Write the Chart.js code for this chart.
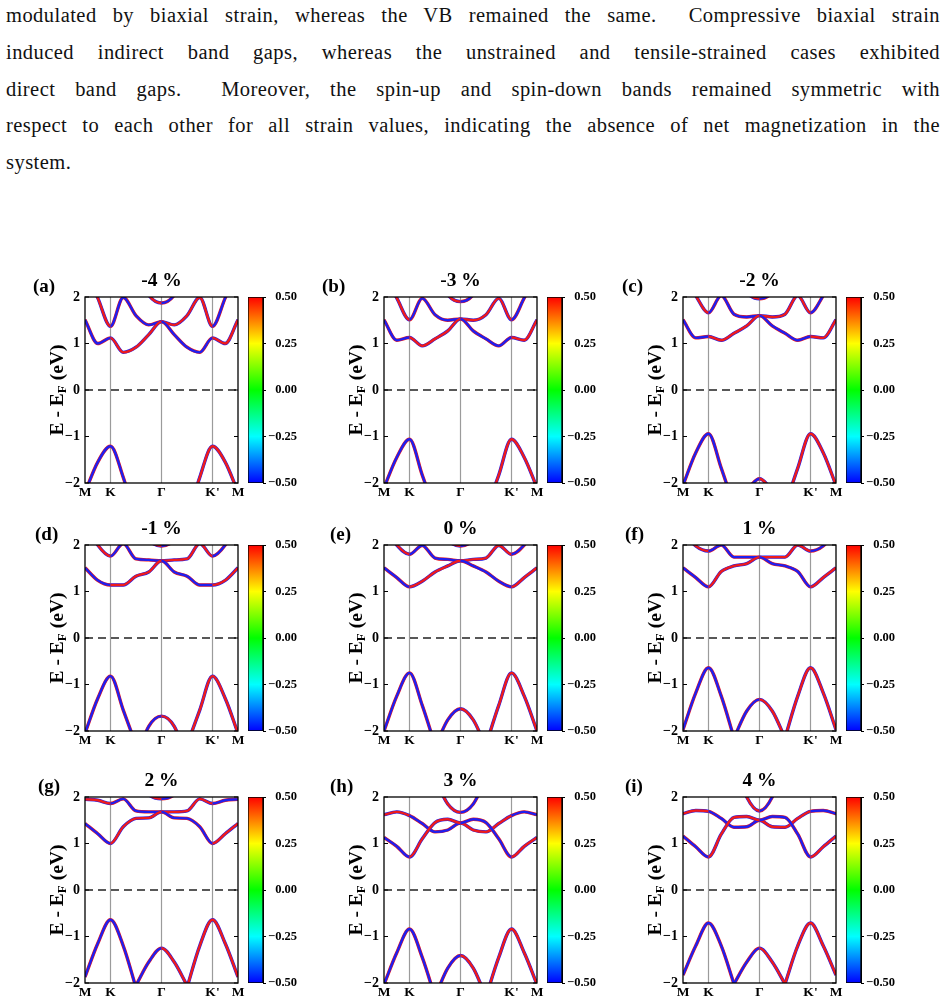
<!DOCTYPE html>
<html>
<head>
<meta charset="utf-8">
<script src="https://cdn.jsdelivr.net/npm/chart.js@4.4.0/dist/chart.umd.min.js"></script>
<style>
  body { margin: 0; width: 947px; height: 1008px; background: #fff; position: relative; overflow: hidden; }
  .para { position: absolute; left: 6px; top: -3px; width: 934px; font-family: "Liberation Serif", serif; font-size: 20.5px; letter-spacing: 0.45px; line-height: 36.8px; color: #111; }
  .para div { text-align: justify; text-align-last: justify; white-space: nowrap; }
  .para div.last { text-align-last: left; }
  canvas { position: absolute; }
</style>
</head>
<body>
<div class="para" id="para">
  <div>modulated by biaxial strain, whereas the VB remained the same.&nbsp; Compressive biaxial strain</div>
  <div>induced indirect band gaps, whereas the unstrained and tensile-strained cases exhibited</div>
  <div>direct band gaps.&nbsp; Moreover, the spin-up and spin-down bands remained symmetric with</div>
  <div id="longest">respect to each other for all strain values, indicating the absence of net magnetization in the</div>
  <div class="last">system.</div>
</div>
<script>
// k-path M - K - Γ - K' - M
const kPath = [0, 0.5, 1, 1.5, 2, 2.5, 3, 3.5, 4, 4.5, 5, 5.5, 6];
const kTickPos = [0, 1, 3, 5, 6];
const kTickText = ['M', 'K', 'Γ', "K'", 'M'];
const eTicks = [-2, -1, 0, 1, 2];
const cbTicks = [-0.5, -0.25, 0, 0.25, 0.5];
const strainText = ['-4 %', '-3 %', '-2 %', '-1 %', '0 %', '1 %', '2 %', '3 %', '4 %'];
const panelTag = ['(a)', '(b)', '(c)', '(d)', '(e)', '(f)', '(g)', '(h)', '(i)'];

// band energies (eV) along kPath, one row per band
const bandsM4 = [
  [1.51, 1.0, 1.12, 0.81, 0.92, 1.19, 1.47, 1.19, 0.92, 0.81, 1.12, 1.0, 1.51],
  [2.6, 1.98, 1.37, 1.99, 1.6, 1.4, 1.47, 1.4, 1.6, 1.99, 1.37, 1.98, 2.6],
  [null, null, null, null, 2.6, 2.04, 1.87, 2.04, 2.6, null, null, null, null],
  [-2.2, -1.55, -1.21, -1.88, -2.8, null, null, null, -2.8, -1.88, -1.21, -1.55, -2.2]
];
const bandsM3 = [
  [1.51, 1.07, 1.13, 0.95, 1.1, 1.27, 1.53, 1.27, 1.1, 0.95, 1.13, 1.07, 1.51],
  [2.5, 1.98, 1.51, 1.97, 1.62, 1.5, 1.53, 1.5, 1.62, 1.97, 1.51, 1.98, 2.5],
  [null, null, null, null, 2.6, 2.05, 1.9, 2.05, 2.6, null, null, null, null],
  [-2.1, -1.45, -1.06, -1.83, -2.6, null, null, null, -2.6, -1.83, -1.06, -1.45, -2.1]
];
const bandsM2 = [
  [1.51, 1.12, 1.15, 1.07, 1.22, 1.38, 1.6, 1.38, 1.22, 1.07, 1.15, 1.12, 1.51],
  [2.5, 2.03, 1.66, 2.03, 1.63, 1.57, 1.6, 1.57, 1.63, 2.03, 1.66, 2.03, 2.5],
  [null, null, null, null, 2.6, 2.1, 1.96, 2.1, 2.6, null, null, null, null],
  [-2.05, -1.35, -0.94, -1.68, -2.5, null, null, null, -2.5, -1.68, -0.94, -1.35, -2.05],
  [null, null, null, null, null, -2.15, -1.91, -2.15, null, null, null, null, null]
];
const bandsM1 = [
  [1.51, 1.24, 1.14, 1.14, 1.33, 1.42, 1.66, 1.42, 1.33, 1.14, 1.14, 1.24, 1.51],
  [2.5, 2.0, 1.76, 2.03, 1.7, 1.68, 1.66, 1.68, 1.7, 2.03, 1.76, 2.0, 2.5],
  [null, null, null, null, 2.5, 2.1, 1.98, 2.1, 2.5, null, null, null, null],
  [-2.05, -1.3, -0.82, -1.55, -2.3, null, null, null, -2.3, -1.55, -0.82, -1.3, -2.05],
  [null, null, null, null, -2.6, -1.9, -1.68, -1.9, -2.6, null, null, null, null]
];
const bands0 = [
  [1.51, 1.3, 1.1, 1.22, 1.42, 1.55, 1.66, 1.55, 1.42, 1.22, 1.1, 1.3, 1.51],
  [2.4, 2.0, 1.8, 1.99, 1.72, 1.69, 1.66, 1.69, 1.72, 1.99, 1.8, 2.0, 2.4],
  [null, null, null, null, 2.5, 2.1, 1.98, 2.1, 2.5, null, null, null, null],
  [-2.0, -1.25, -0.75, -1.45, -2.3, null, null, null, -2.3, -1.45, -0.75, -1.25, -2.0],
  [null, null, null, null, -2.35, -1.76, -1.52, -1.76, -2.35, null, null, null, null]
];
const bandsP1 = [
  [1.51, 1.3, 1.1, 1.43, 1.55, 1.6, 1.74, 1.6, 1.55, 1.43, 1.1, 1.3, 1.51],
  [2.3, 1.98, 1.87, 2.0, 1.74, 1.74, 1.74, 1.74, 1.74, 2.0, 1.87, 1.98, 2.3],
  [-1.97, -1.18, -0.64, -1.25, -2.15, null, null, null, -2.15, -1.25, -0.64, -1.18, -1.97],
  [null, null, null, null, -2.15, -1.57, -1.32, -1.57, -2.15, null, null, null, null]
];
const bandsP2 = [
  [1.43, 1.21, 1.0, 1.36, 1.54, 1.55, 1.68, 1.55, 1.54, 1.36, 1.0, 1.21, 1.43],
  [1.95, 1.93, 1.86, 1.96, 1.7, 1.68, 1.68, 1.68, 1.7, 1.96, 1.86, 1.93, 1.95],
  [null, null, null, null, 2.4, 2.05, 1.96, 2.05, 2.4, null, null, null, null],
  [-1.87, -1.15, -0.64, -1.2, -2.1, null, null, null, -2.1, -1.2, -0.64, -1.15, -1.87],
  [null, null, null, null, -2.05, -1.55, -1.25, -1.55, -2.05, null, null, null, null]
];
const bandsP3 = [
  [1.13, 0.94, 0.71, 1.1, 1.45, 1.52, 1.44, 1.52, 1.45, 1.1, 0.71, 0.94, 1.13],
  [1.62, 1.68, 1.6, 1.43, 1.25, 1.29, 1.44, 1.29, 1.25, 1.43, 1.6, 1.68, 1.62],
  [null, null, null, null, 2.4, 1.85, 1.67, 1.85, 2.4, null, null, null, null],
  [-2.03, -1.35, -0.84, -1.45, -2.3, null, null, null, -2.3, -1.45, -0.84, -1.35, -2.03],
  [null, null, null, null, -2.3, -1.68, -1.41, -1.68, -2.3, null, null, null, null]
];
const bandsP4 = [
  [1.16, 0.93, 0.71, 1.2, 1.56, 1.58, 1.5, 1.58, 1.56, 1.2, 0.71, 0.93, 1.16],
  [1.64, 1.71, 1.69, 1.54, 1.35, 1.36, 1.5, 1.36, 1.35, 1.54, 1.69, 1.71, 1.64],
  [null, null, null, null, 2.8, 2.0, 1.7, 2.0, 2.8, null, null, null, null],
  [-1.83, -1.2, -0.71, -1.2, -2.02, null, null, null, -2.02, -1.2, -0.71, -1.2, -1.83],
  [null, null, null, null, -2.02, -1.55, -1.25, -1.55, -2.02, null, null, null, null]
];
const allBands = [bandsM4, bandsM3, bandsM2, bandsM1, bands0, bandsP1, bandsP2, bandsP3, bandsP4];

// layout (px)
const plotLeft = [85, 384, 683];
const plotTop = [297, 545, 797];
const plotW = 153, plotH = 186;
const tagDx = [-52, -62, -61, -50, -54, -58, -47, -54, -58];
const FONT = '"Liberation Serif", "Times New Roman", serif';
const RED = '#ee1b1b', BLUE = '#1f1fee';

// shrink the paragraph font if the longest line would overflow
(function fitPara() {
  const para = document.getElementById('para');
  const probe = document.createElement('span');
  probe.style.cssText = 'position:absolute;visibility:hidden;white-space:nowrap;letter-spacing:0.45px;font-size:20.5px;font-family:"Liberation Serif",serif';
  probe.textContent = document.getElementById('longest').textContent;
  document.body.appendChild(probe);
  const w = probe.getBoundingClientRect().width;
  probe.remove();
  if (w > 930) para.style.fontSize = (20.5 * 930 / w) + 'px';
})();

function minusText(v) {
  return v < 0 ? '\u2212' + Math.abs(v) : String(v);
}

function line(ctx, x1, y1, x2, y2) {
  ctx.beginPath(); ctx.moveTo(x1, y1); ctx.lineTo(x2, y2); ctx.stroke();
}

// which spin channel sits on top along each stretch of the path
function spinOnTop(isVB, b, j) {
  const k = kPath[j];
  const seg = k < 1 ? 0 : k < 3 ? 1 : k < 5 ? 2 : 3;
  if (isVB) return seg < 2 ? BLUE : RED;
  return (seg + b) % 2 ? RED : BLUE;
}

const decor = {
  id: 'decor',
  beforeDatasetsDraw(chart) {
    const { ctx, chartArea: a, scales: { x, y } } = chart;
    ctx.save();
    ctx.strokeStyle = '#9b9b9b';
    ctx.lineWidth = 1.2;
    kTickPos.slice(1, -1).forEach(v => {
      const px = x.getPixelForValue(v);
      line(ctx, px, a.top, px, a.bottom);
    });
    ctx.strokeStyle = '#222';
    ctx.lineWidth = 1.4;
    ctx.setLineDash([8, 5]);
    const y0 = y.getPixelForValue(0);
    line(ctx, a.left, y0, a.right, y0);
    ctx.restore();
  },
  afterDatasetsDraw(chart) {
    const { ctx, chartArea: a, scales: { y } } = chart;
    ctx.save();
    ctx.strokeStyle = '#000';
    ctx.lineWidth = 1.3;
    ctx.strokeRect(a.left, a.top, a.right - a.left, a.bottom - a.top);
    ctx.lineWidth = 1;
    eTicks.forEach(v => {
      const py = y.getPixelForValue(v);
      line(ctx, a.left, py, a.left + 4, py);
      line(ctx, a.right - 4, py, a.right, py);
    });
    ctx.restore();
  },
  afterDraw(chart, args, opts) {
    const { ctx, chartArea: a } = chart;
    ctx.save();
    ctx.fillStyle = '#000';
    ctx.textBaseline = 'middle';
    // title
    ctx.font = 'bold 19.5px ' + FONT;
    ctx.textAlign = 'center';
    ctx.fillText(opts.title, (a.left + a.right) / 2, a.top - 16);
    // panel tag
    ctx.font = 'bold 19px ' + FONT;
    ctx.textAlign = 'left';
    ctx.fillText(opts.tag, a.left + opts.tagDx, a.top - 10);
    // y label E - E_F (eV)
    ctx.translate(a.left - 27, (a.top + a.bottom) / 2);
    ctx.rotate(-Math.PI / 2);
    const big = 'bold 19.5px ' + FONT, small = 'bold 13px ' + FONT;
    ctx.font = big; const w1 = ctx.measureText('E - E').width;
    ctx.font = small; const w2 = ctx.measureText('F').width;
    ctx.font = big; const w3 = ctx.measureText(' (eV)').width;
    const sx = -(w1 + w2 + w3) / 2;
    ctx.textAlign = 'left';
    ctx.fillText('E - E', sx, 0);
    ctx.font = small; ctx.fillText('F', sx + w1, 5);
    ctx.font = big; ctx.fillText(' (eV)', sx + w1 + w2, 0);
    ctx.restore();
  }
};

function jet(chart) {
  const a = chart.chartArea;
  if (!a) return BLUE;
  const g = chart.ctx.createLinearGradient(0, a.bottom, 0, a.top);
  g.addColorStop(0, '#0000ff');
  g.addColorStop(0.25, '#00ffff');
  g.addColorStop(0.5, '#00ff00');
  g.addColorStop(0.75, '#ffff00');
  g.addColorStop(1, '#ff0000');
  return g;
}

function addCanvas(left, top, w, h) {
  const c = document.createElement('canvas');
  c.width = w; c.height = h;
  c.style.left = left + 'px'; c.style.top = top + 'px';
  document.body.appendChild(c);
  return c.getContext('2d');
}

function drawPanel(i) {
  const col = i % 3, row = Math.floor(i / 3);
  const L = plotLeft[col], T = plotTop[row];
  const ctx = addCanvas(L - 85, T - 35, 85 + plotW + 10, 35 + plotH + 22);
  const datasets = [];
  allBands[i].forEach((band, b) => {
    const isVB = band.every(v => v === null || v < 0);
    const pts = kPath.map((k, j) => ({ x: k, y: band[j] }));
    // other spin channel underneath (wider, order 1 = drawn first), visible spin on top
    [[3.4, false, 1], [2.4, true, 0]].forEach(([w, top, ord]) => {
      datasets.push({
        data: pts,
        order: ord,
        borderColor: BLUE,
        borderWidth: w,
        pointRadius: 0,
        cubicInterpolationMode: 'monotone',
        spanGaps: false,
        clip: 0,
        segment: {
          borderColor: c => {
            const up = spinOnTop(isVB, b, c.p0DataIndex);
            return top ? up : (up === BLUE ? RED : BLUE);
          }
        }
      });
    });
  });
  new Chart(ctx, {
    type: 'line',
    data: { datasets },
    plugins: [decor],
    options: {
      responsive: false,
      animation: false,
      layout: { padding: { top: 35, right: 10, bottom: 0, left: 0 } },
      plugins: {
        legend: { display: false },
        tooltip: { enabled: false },
        decor: { title: strainText[i], tag: panelTag[i], tagDx: tagDx[i] }
      },
      scales: {
        x: {
          type: 'linear', min: 0, max: 6,
          afterBuildTicks: ax => { ax.ticks = kTickPos.map(v => ({ value: v })); },
          afterFit: ax => { ax.height = 22; },
          grid: { display: false, drawTicks: false },
          border: { display: false },
          ticks: {
            autoSkip: false, maxRotation: 0, padding: 1, color: '#000',
            font: { family: FONT, weight: 'bold', size: 13.5 },
            callback: v => kTickText[kTickPos.indexOf(v)]
          }
        },
        y: {
          min: -2, max: 2,
          afterBuildTicks: ax => { ax.ticks = eTicks.map(v => ({ value: v })); },
          afterFit: ax => { ax.width = 85; },
          grid: { display: false, drawTicks: false },
          border: { display: false },
          ticks: {
            padding: 5, color: '#000',
            font: { family: FONT, weight: 'bold', size: 14 },
            callback: v => minusText(v)
          }
        }
      }
    }
  });

  // colour bar
  const cctx = addCanvas(L + 163, T - 35, 15 + 34, 35 + plotH + 22);
  new Chart(cctx, {
    type: 'bar',
    data: {
      labels: [''],
      datasets: [{
        data: [[cbTicks[0], cbTicks[cbTicks.length - 1]]],
        backgroundColor: c => jet(c.chart),
        borderColor: '#000', borderWidth: 1, borderSkipped: false,
        barPercentage: 1, categoryPercentage: 1
      }]
    },
    options: {
      responsive: false,
      animation: false,
      layout: { padding: { top: 35, bottom: 22, left: 0, right: 0 } },
      plugins: { legend: { display: false }, tooltip: { enabled: false } },
      scales: {
        x: { display: false },
        y: {
          position: 'right', min: -0.5, max: 0.5,
          afterBuildTicks: ax => { ax.ticks = cbTicks.map(v => ({ value: v })); },
          afterFit: ax => { ax.width = 34; },
          grid: { drawOnChartArea: false, drawTicks: true, tickLength: 3, color: '#000' },
          border: { display: true, color: '#000' },
          ticks: {
            crossAlign: 'far', padding: 2, color: '#000',
            font: { family: FONT, weight: 'bold', size: 12.5 },
            callback: v => (v < 0 ? '\u2212' + Math.abs(v).toFixed(2) : v.toFixed(2))
          }
        }
      }
    }
  });
}

for (let i = 0; i < 9; i++) drawPanel(i);
</script>
</body>
</html>
